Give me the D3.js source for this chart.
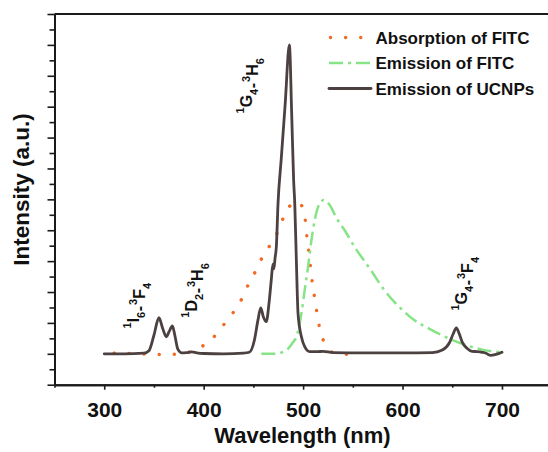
<!DOCTYPE html>
<html>
<head>
<meta charset="utf-8">
<script src="https://cdn.jsdelivr.net/npm/d3@7"></script>
<style>
  html, body { margin: 0; padding: 0; background: #fff; }
  svg { display: block; font-family: "Liberation Sans", Arial, Helvetica, sans-serif; }
</style>
</head>
<body>
<svg id="chart" width="548" height="452"></svg>
<script>
// ---- Spectra (wavelength in nm, intensity in arbitrary units) ----
const ucnpWavelength = [300, 320, 340, 345, 350, 355, 359, 362.5, 365, 368.6, 371, 374, 378, 383, 388, 393, 400, 420, 440,
  446, 451, 454.6, 457.4, 460, 463, 465.7, 468, 469.6, 470.6, 471.8, 473.1, 474.8, 478, 482, 486.2,
  488.5, 490.5, 491.6, 493.3, 494.9, 498.3, 501.6, 506.6, 515, 520, 530, 560, 600, 630, 640, 647, 651, 654.1,
  657, 660, 664.8, 670, 675, 680, 684, 688, 694, 700];
const ucnpIntensity = [0, 0, 0.02, 0.1, 0.6, 1.17, 0.8, 0.55, 0.7, 0.9, 0.6, 0.15, 0.03, 0.04, 0.06, 0.03, 0.01, 0, 0.02,
  0.05, 0.44, 1.09, 1.49, 1.2, 1.04, 1.63, 2.39, 2.9, 2.75, 3.1, 3.47, 4.88, 6.3, 8.1, 10.0,
  7.8, 5.6, 4.88, 2.93, 1.31, 0.55, 0.23, 0.07, 0.07, 0.08, 0.04, 0.03, 0.03, 0.04, 0.12, 0.35, 0.65, 0.84,
  0.65, 0.38, 0.18, 0.08, 0.07, 0.05, 0.02, -0.05, -0.02, 0.05];

const absWavelength = [310, 315.6, 322, 335, 350, 362, 376, 385, 392, 400, 406, 417, 428.5, 438, 444.6, 452, 458.7,
  468, 475.8, 481.5, 487, 491, 495, 499.3, 502.6, 504, 506, 507.6, 509.4, 511.7, 514, 516.7, 521.7, 527, 533.5, 540, 550];
const absIntensity = [0.02, 0.06, 0.02, 0, -0.02, -0.02, 0, 0.05, 0.17, 0.27, 0.4, 0.82, 1.28, 1.76, 2.22, 2.66, 3.11,
  3.58, 4.04, 4.51, 4.8, 4.92, 4.88, 4.76, 4.22, 3.74, 3.25, 2.77, 2.28, 1.79, 1.31, 0.82, 0.34, 0.1, 0.01, -0.01, -0.02];

const fitcWavelength = [458, 470, 480, 485, 490, 493.3, 496, 498.3, 501.6, 505, 508.4, 511.7, 516.7, 520.7, 526.7,
  533.5, 541.8, 551, 567.7, 581, 596, 611, 628, 645, 665, 682, 700];
const fitcIntensity = [0, 0, 0.06, 0.17, 0.38, 0.55, 0.9, 1.31, 2.06, 2.82, 3.68, 4.33, 4.87, 4.98, 4.82,
  4.4, 4.0, 3.5, 2.73, 2.09, 1.54, 1.11, 0.79, 0.52, 0.27, 0.12, 0.05];

// ---- Axes ----
const xMajorTicks = [300, 400, 500, 600, 700];
const xMinorTicks = [250, 350, 450, 550, 650, 750];
const yMajorTicks = [-1, 0, 1, 2, 3, 4, 5, 6, 7, 8, 9, 10, 11];
const yMinorTicks = [-0.5, 0.5, 1.5, 2.5, 3.5, 4.5, 5.5, 6.5, 7.5, 8.5, 9.5, 10.5];

// ---- Legend and transition labels ----
const seriesNames = ["Absorption of FITC", "Emission of FITC", "Emission of UCNPs"];
// each transition: [superscript, letter, subscript] for lower and upper level
const transitionParts = [
  [["1", "I", "6"], ["3", "F", "4"]],
  [["1", "D", "2"], ["3", "H", "6"]],
  [["1", "G", "4"], ["3", "H", "6"]],
  [["1", "G", "4"], ["3", "F", "4"]]
];
const transitionWavelength = [334.7, 393, 448.3, 664.6];
const transitionIntensity = [0.82, 1.17, 7.78, 1.4];

const svg = d3.select("#chart");
const axisColor = "#1a1a1a";

const x = d3.scaleLinear().domain([250, 750]).range([54.5, 551.7]);
const y = d3.scaleLinear().domain([-1, 11]).range([384.7, 14]);

// frame: top border line
svg.append("line")
  .attr("x1", x(250)).attr("x2", x(750))
  .attr("y1", y(11)).attr("y2", y(11))
  .attr("stroke", axisColor).attr("stroke-width", 2);

// bottom axis
const gxMinor = svg.append("g").attr("transform", `translate(0,${y(-1)})`)
  .call(d3.axisBottom(x).tickValues(xMinorTicks).tickSize(3).tickSizeOuter(0).tickFormat(""));
const gx = svg.append("g").attr("transform", `translate(0,${y(-1)})`)
  .call(d3.axisBottom(x).tickValues(xMajorTicks).tickSize(5).tickSizeOuter(0).tickPadding(12)
    .tickFormat(d3.format("d")));
[gx, gxMinor].forEach(g => {
  g.select(".domain").attr("stroke", axisColor).attr("stroke-width", 2);
  g.selectAll(".tick line").attr("stroke", axisColor).attr("stroke-width", 1.6);
});
gx.selectAll(".tick text")
  .attr("fill", "#111").attr("font-size", 21).attr("font-weight", "bold")
  .attr("font-family", '"Liberation Sans", Arial, sans-serif');

// left axis (no labels)
const gyMinor = svg.append("g").attr("transform", `translate(${x(250)},0)`)
  .call(d3.axisLeft(y).tickValues(yMinorTicks).tickSize(5).tickSizeOuter(0).tickFormat(""));
const gy = svg.append("g").attr("transform", `translate(${x(250)},0)`)
  .call(d3.axisLeft(y).tickValues(yMajorTicks).tickSize(7).tickSizeOuter(0).tickFormat(""));
[gy, gyMinor].forEach(g => {
  g.select(".domain").attr("stroke", axisColor).attr("stroke-width", 2);
  g.selectAll(".tick line").attr("stroke", axisColor).attr("stroke-width", 1.6);
});

// axis titles
svg.append("text")
  .attr("x", 302.5).attr("y", 443)
  .attr("text-anchor", "middle")
  .attr("font-size", 22).attr("font-weight", "bold").attr("fill", "#111")
  .text("Wavelength (nm)");
svg.append("text")
  .attr("transform", "translate(29,189.5) rotate(-90)")
  .attr("text-anchor", "middle")
  .attr("font-size", 22.5).attr("font-weight", "bold").attr("fill", "#111")
  .text("Intensity (a.u.)");

// ---- Curves ----
const line = d3.line()
  .x(d => x(d[0]))
  .y(d => y(d[1]))
  .curve(d3.curveMonotoneX);

const absData = d3.zip(absWavelength, absIntensity);
const fitcData = d3.zip(fitcWavelength, fitcIntensity);
const ucnpData = d3.zip(ucnpWavelength, ucnpIntensity);

const styles = [
  { color: "#f26a22", width: 3.4, dash: "0.1,15", cap: "round" },
  { color: "#86e486", width: 2.5, dash: "14,5,3,5", cap: "butt" },
  { color: "#4c4040", width: 2.8, dash: null, cap: "round" }
];

[absData, fitcData, ucnpData].forEach((data, i) => {
  const s = styles[i];
  svg.append("path")
    .datum(data)
    .attr("d", line)
    .attr("fill", "none")
    .attr("stroke", s.color)
    .attr("stroke-width", s.width)
    .attr("stroke-linecap", s.cap)
    .attr("stroke-linejoin", "round")
    .attr("stroke-dasharray", s.dash);
});

// ---- Legend ----
const legend = svg.append("g");
seriesNames.forEach((name, i) => {
  const s = styles[i];
  const ly = 37.5 + i * 25.5;
  legend.append("line")
    .attr("x1", i === 0 ? 330.5 : 329).attr("x2", 371)
    .attr("y1", ly).attr("y2", ly)
    .attr("stroke", s.color)
    .attr("stroke-width", s.width)
    .attr("stroke-linecap", s.cap)
    .attr("stroke-dasharray", s.dash);
  legend.append("text")
    .attr("x", 375.5).attr("y", ly + 6)
    .attr("font-size", 17).attr("font-weight", "bold").attr("fill", "#111")
    .text(name);
});

// ---- Transition labels (vertical, with super/subscripts) ----
transitionParts.forEach((levels, i) => {
  const t = svg.append("text")
    .attr("transform", `translate(${x(transitionWavelength[i])},${y(transitionIntensity[i])}) rotate(-90)`)
    .attr("font-weight", "bold").attr("fill", "#111").attr("font-size", 16);
  levels.forEach((lv, k) => {
    if (k > 0) t.append("tspan").attr("font-size", 16).attr("dx", 0.5).text("-");
    t.append("tspan").attr("font-size", 11).attr("dy", -8).attr("dx", k > 0 ? 1 : 0).text(lv[0]);
    t.append("tspan").attr("font-size", 16).attr("dy", 8).text(lv[1]);
    t.append("tspan").attr("font-size", 11).attr("dy", 6).text(lv[2]);
    t.append("tspan").attr("font-size", 16).attr("dy", -6).text("");
  });
});
</script>
</body>
</html>
